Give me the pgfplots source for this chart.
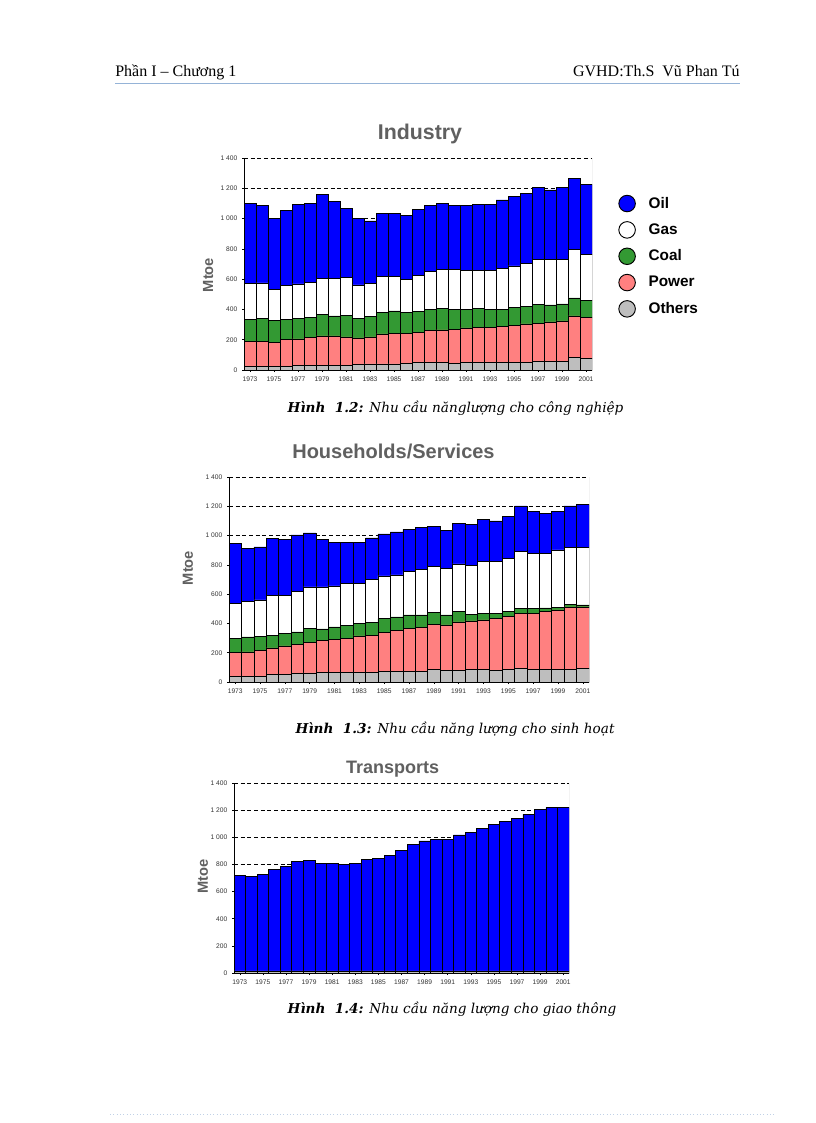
\documentclass[border=0pt]{standalone}
\usepackage{fontspec}
\setmainfont{Liberation Serif}
\setsansfont{Liberation Sans}
\newfontfamily\capfont{DejaVu Serif}
\usepackage{pgfplots}
\pgfplotsset{compat=1.18}
\usepackage{pgfplotstable}

\definecolor{oilblue}{RGB}{0,0,255}
\definecolor{coalgreen}{RGB}{51,153,51}
\definecolor{powerpink}{RGB}{255,128,128}
\definecolor{othergray}{RGB}{190,190,190}
\definecolor{titlegray}{RGB}{96,96,96}
\definecolor{headline}{RGB}{149,179,215}

% Mtoe per source, stacked bottom to top
\pgfplotstableread{
year others power coal gas oil
1973 25 165 143 237 532
1974 25 165 150 235 512
1975 25 155 147 206 468
1976 25 175 133 225 494
1977 28 177 135 228 528
1978 30 185 135 227 525
1979 30 195 140 240 557
1980 32 193 133 249 504
1981 32 186 145 251 453
1982 35 177 130 220 439
1983 40 178 137 215 415
1984 40 198 140 242 416
1985 40 200 150 230 414
1986 42 198 138 222 421
1987 48 199 140 240 433
1988 48 212 140 250 437
1989 48 217 142 258 437
1990 45 223 132 265 422
1991 50 228 122 257 430
1992 50 232 125 250 439
1993 50 232 118 260 436
1994 50 240 110 272 452
1995 52 245 115 275 459
1996 52 253 115 282 466
1997 58 252 122 301 471
1998 58 260 112 303 457
1999 58 267 112 296 471
2000 85 272 120 320 466
2001 78 269 111 304 464
}\industry

\pgfplotstableread{
year others power coal gas oil
1973 41 160 98 239 408
1974 41 164 103 242 364
1975 41 176 95 249 362
1976 50 183 86 271 393
1977 52 194 87 257 384
1978 57 198 87 276 387
1979 62 207 96 285 369
1980 64 219 80 287 324
1981 68 222 86 281 296
1982 68 231 89 285 280
1983 68 247 86 272 280
1984 68 253 87 294 283
1985 75 262 96 292 287
1986 75 276 94 287 294
1987 75 290 93 297 287
1988 75 299 84 313 285
1989 87 307 83 314 274
1990 78 312 68 317 260
1991 80 330 71 326 278
1992 84 333 46 335 280
1993 84 340 46 353 285
1994 80 353 37 353 278
1995 84 365 32 365 283
1996 91 376 35 392 308
1997 87 380 35 378 285
1998 87 394 25 374 269
1999 87 405 19 392 262
2000 87 426 18 390 281
2001 91 422 14 394 290
}\households

\pgfplotstableread{
year others oil
1973 15 705
1974 15 697
1975 15 712
1976 15 746
1977 15 773
1978 15 805
1979 15 815
1980 15 793
1981 15 793
1982 15 783
1983 15 791
1984 15 822
1985 15 830
1986 15 854
1987 15 889
1988 15 933
1989 15 958
1990 15 970
1991 15 970
1992 15 1002
1993 15 1019
1994 15 1051
1995 15 1078
1996 15 1105
1997 15 1127
1998 15 1154
1999 15 1188
2000 15 1203
2001 15 1203
}\transports

\pgfplotsset{
  energy/.style={
    scale only axis,
    ybar stacked, bar width=1,
    xmin=1972.5, xmax=2001.5,
    ymin=0, ymax=1400,
    xtick={1973,1975,...,2001},
    ytick={0,200,...,1400},
    ymajorgrids,
    grid style={black, dash pattern=on 3pt off 2pt, line width=0.5pt},
    axis x line*=bottom, axis y line*=left,
    axis line style={black, line width=0.6pt, -},
    tick align=outside, major tick length=1.5pt,
    tick style={black, line width=0.4pt},
    ticklabel style={font=\sffamily\fontsize{5}{6}\selectfont, text=black!80},
    /pgf/number format/assume math mode=true,
    /pgf/number format/1000 sep={\ },
    scaled y ticks=false,
    xticklabel style={/pgf/number format/1000 sep={}},
    ylabel={Mtoe},
    ylabel style={font=\sffamily\bfseries\fontsize{11}{12}\selectfont, text=titlegray, anchor=center},
    every axis plot/.append style={draw=black, line width=0.4pt},
  },
  dotlegend/.style={legend image code/.code={
    \path[draw=none, fill=none] (0pt,0pt) (20.5pt,0pt);
    \draw[##1, draw=black, line width=0.7pt] (6.4pt,0pt) circle (6.2pt);}},
}

\begin{document}
\begin{tikzpicture}
\fill[white] (0,0) rectangle (612pt,-842.25pt);
\path[use as bounding box] (0,0) rectangle (612pt,-842.25pt);

% header
\node[anchor=base west, font=\fontsize{12}{14}\selectfont, inner sep=0pt] at (86.25pt,-57.75pt) {Phần I – Chương 1};
\node[anchor=base east, font=\fontsize{12}{14}\selectfont, inner sep=0pt] at (555pt,-57.75pt) {GVHD:Th.S\ \ Vũ Phan Tú};
\draw[headline, line width=0.6pt] (86.25pt,-62.6pt) -- (555pt,-62.6pt);

% Industry
\node[anchor=base, font=\sffamily\bfseries\fontsize{16}{18}\selectfont, text=titlegray] at (315pt,-105pt) {Industry};
\begin{axis}[energy, at={(183pt,-277.5pt)}, anchor=south west,
  width=261pt, height=159pt,
  ylabel style={at={(axis description cs:-0.103,0.448)}},
  reverse legend,
  legend style={at={(axis description cs:1.075,0.83)}, anchor=north west,
    draw=none, fill=none, inner sep=0pt, row sep=6.1pt,
    font=\sffamily\bfseries\fontsize{11.5}{12}\selectfont},
  legend cell align=left]
\addplot[fill=othergray, dotlegend] table[x=year, y=others] {\industry};
\addlegendentry{Others}
\addplot[fill=powerpink, dotlegend] table[x=year, y=power] {\industry};
\addlegendentry{Power}
\addplot[fill=coalgreen, dotlegend] table[x=year, y=coal] {\industry};
\addlegendentry{Coal}
\addplot[fill=white, dotlegend] table[x=year, y=gas] {\industry};
\addlegendentry{Gas}
\addplot[fill=oilblue, dotlegend] table[x=year, y=oil] {\industry};
\addlegendentry{Oil}
\draw[gray!70] (rel axis cs:1,0) -- (rel axis cs:1,1);
\end{axis}
\node[anchor=base west, font=\capfont\itshape\fontsize{10.2}{12}\selectfont] at (212.25pt,-309pt) {\textbf{Hình\ \ 1.2:} Nhu cầu nănglượng cho công nghiệp};

% Households/Services
\node[anchor=base, font=\sffamily\bfseries\fontsize{15}{18}\selectfont, text=titlegray] at (295.1pt,-343.5pt) {Households/Services};
\begin{axis}[energy, at={(171.75pt,-511.5pt)}, anchor=south west,
  width=270pt, height=153.75pt,
  ylabel style={at={(axis description cs:-0.114,0.556)}}]
\addplot[fill=othergray] table[x=year, y=others] {\households};
\addplot[fill=powerpink] table[x=year, y=power] {\households};
\addplot[fill=coalgreen] table[x=year, y=coal] {\households};
\addplot[fill=white] table[x=year, y=gas] {\households};
\addplot[fill=oilblue] table[x=year, y=oil] {\households};
\draw[gray!70] (rel axis cs:1,0) -- (rel axis cs:1,1);
\end{axis}
\node[anchor=base west, font=\capfont\itshape\fontsize{10.2}{12}\selectfont] at (218.25pt,-549.75pt) {\textbf{Hình\ \ 1.3:} Nhu cầu năng lượng cho sinh hoạt};

% Transports
\node[anchor=base, font=\sffamily\bfseries\fontsize{13.5}{16}\selectfont, text=titlegray] at (294.4pt,-579.75pt) {Transports};
\begin{axis}[energy, at={(175.5pt,-729.75pt)}, anchor=south west,
  width=251.25pt, height=142.5pt,
  ylabel style={at={(axis description cs:-0.0925,0.51)}}]
\addplot[fill=othergray] table[x=year, y=others] {\transports};
\addplot[fill=oilblue] table[x=year, y=oil] {\transports};
\draw[gray!70] (rel axis cs:1,0) -- (rel axis cs:1,1);
\end{axis}
\node[anchor=base west, font=\capfont\itshape\fontsize{10.2}{12}\selectfont] at (212.25pt,-759.75pt) {\textbf{Hình\ \ 1.4:} Nhu cầu năng lượng cho giao thông};

\draw[headline!60, dotted, line width=0.5pt] (82.5pt,-836pt) -- (581.25pt,-836pt);
\end{tikzpicture}
\end{document}
